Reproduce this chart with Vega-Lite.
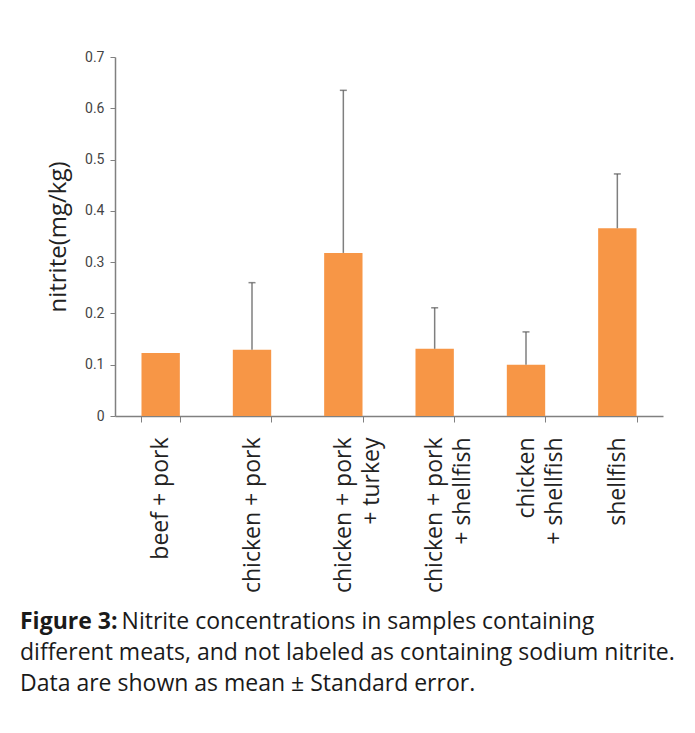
{
  "$schema": "https://vega.github.io/schema/vega-lite/v6.json",
  "width": 548,
  "height": 359,
  "autosize": "none",
  "padding": {"left": 115, "top": 57, "right": 32, "bottom": 317},
  "background": "white",
  "data": {
    "values": [
      {"meat": "beef + pork", "mean": 0.123, "upper": null},
      {"meat": "chicken + pork", "mean": 0.129, "upper": 0.26},
      {"meat": "chicken + pork\n+ turkey", "mean": 0.318, "upper": 0.635},
      {"meat": "chicken + pork\n+ shellfish", "mean": 0.131, "upper": 0.211},
      {"meat": "chicken\n+ shellfish", "mean": 0.1, "upper": 0.164},
      {"meat": "shellfish", "mean": 0.366, "upper": 0.472}
    ]
  },
  "title": {
    "text": "Figure 3:",
    "subtitle": [
      "\u200b\u00a0\u00a0\u00a0\u00a0\u00a0\u00a0\u00a0\u00a0\u00a0\u00a0\u00a0\u00a0\u00a0\u00a0\u00a0\u00a0\u00a0Nitrite concentrations in samples containing",
      "different meats, and not labeled as containing sodium nitrite.",
      "Data are shown as mean ± Standard error."
    ],
    "orient": "bottom",
    "anchor": "start",
    "frame": "group",
    "dx": -95,
    "offset": 18,
    "font": "Open Sans",
    "fontSize": 23,
    "fontWeight": "bold",
    "color": "#1a1a1a",
    "subtitleFont": "Open Sans",
    "subtitleFontSize": 23,
    "subtitleColor": "#1a1a1a",
    "subtitleLineHeight": 31,
    "subtitlePadding": -23
  },
  "encoding": {
    "x": {
      "field": "meat",
      "type": "nominal",
      "sort": null,
      "scale": {"paddingInner": 0.58, "paddingOuter": 0.29},
      "axis": {
        "title": null,
        "labelAngle": -90,
        "labelAlign": "right",
        "labelBaseline": "middle",
        "labelExpr": "split(datum.label, '\\n')",
        "labelLineHeight": 28,
        "labelFont": "Open Sans",
        "labelFontSize": 23,
        "labelColor": "#222222",
        "labelPadding": 15,
        "tickBand": "extent",
        "tickSize": 6,
        "tickColor": "#808080",
        "domainColor": "#808080",
        "domainWidth": 1.5,
        "labelLimit": 300
      }
    }
  },
  "layer": [
    {
      "mark": {"type": "bar", "color": "#F79646"},
      "encoding": {
        "y": {
          "field": "mean",
          "type": "quantitative",
          "scale": {"domain": [0, 0.7], "nice": false},
          "axis": {
            "title": "nitrite(mg/kg)",
            "titleFont": "Open Sans",
            "titleFontSize": 24,
            "titleFontWeight": "normal",
            "titleColor": "#222222",
            "titlePadding": 14,
            "values": [0, 0.1, 0.2, 0.3, 0.4, 0.5, 0.6, 0.7],
            "labelExpr": "datum.value == 0 ? '0' : format(datum.value, '.1f')",
            "labelFont": "Roboto",
            "labelFontSize": 14,
            "labelColor": "#444444",
            "labelPadding": 6,
            "tickSize": 5,
            "tickColor": "#808080",
            "domainColor": "#808080",
            "domainWidth": 1.5,
            "grid": false
          }
        }
      }
    },
    {
      "transform": [{"filter": "datum.upper != null"}],
      "mark": {"type": "rule", "color": "#7f7f7f", "strokeWidth": 1.5},
      "encoding": {
        "y": {"field": "mean", "type": "quantitative"},
        "y2": {"field": "upper"}
      }
    },
    {
      "transform": [{"filter": "datum.upper != null"}],
      "mark": {"type": "tick", "color": "#555555", "thickness": 1.5, "size": 7, "orient": "horizontal"},
      "encoding": {
        "y": {"field": "upper", "type": "quantitative"}
      }
    }
  ],
  "config": {
    "view": {"stroke": null}
  }
}
